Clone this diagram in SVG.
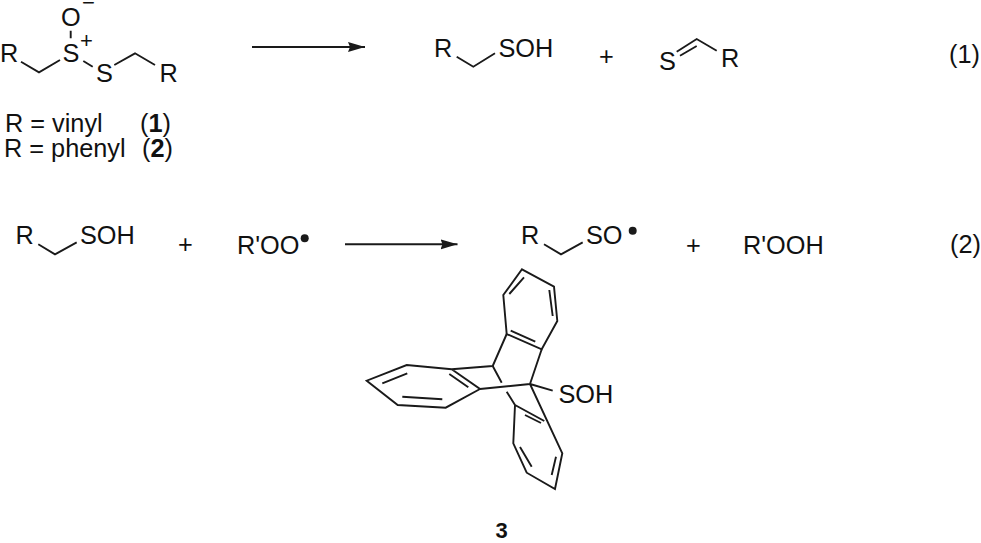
<svg xmlns="http://www.w3.org/2000/svg" width="981" height="543" viewBox="0 0 981 543">
<defs>
<marker id="head" markerUnits="userSpaceOnUse" markerWidth="18" markerHeight="12" refX="17" refY="6" orient="auto"><path d="M0 1L17 6L0 11L2 6Z" fill="#1a1a1a"/></marker>
</defs>
<style>
text{font-family:"Liberation Sans",Arial,sans-serif;font-size:25.3px;fill:#111}
.b{font-weight:bold}
.sm{font-size:22px}
.num{font-size:22px;font-weight:bold}
path.bond{fill:none;stroke:#1a1a1a;stroke-width:1.9;stroke-linejoin:miter}
.arrow{fill:none;stroke:#1a1a1a;stroke-width:1.9;marker-end:url(#head)}
</style>
<rect width="981" height="543" fill="#fff"/>
<g id="connectors">
<line class="arrow" x1="252" y1="47" x2="365" y2="47"/>
<line class="arrow" x1="345" y1="244.3" x2="457.5" y2="244.3"/>
</g>
<g id="reactant-disulfide-oxide">
<path class="bond" d="M21 61.7L39 72.3L60 60M70.7 30.7V38.3M83.3 61L92.7 66.7M114.3 65L135 53.3L155 65"/>
<text x="0" y="62">R</text><text x="62.5" y="62">S</text><text x="61" y="26">O</text><text x="96" y="81.5">S</text><text x="159.5" y="81.5">R</text>
<text x="80" y="48" class="sm">+</text><text x="82" y="10" class="sm">−</text>
</g>
<g id="legend">
<text x="5" y="132">R = vinyl</text><text x="140" y="132">(<tspan class="b">1</tspan>)</text>
<text x="4" y="157">R = phenyl</text><text x="142" y="157">(<tspan class="b">2</tspan>)</text>
</g>
<g id="product-sulfenic-acid-1">
<text x="434" y="56.7">R</text>
<path class="bond" d="M456.7 56.7L473.3 66.7L495 53.3"/>
<text x="498.5" y="56.7">SOH</text>
</g>
<g id="plus-1"><text x="599" y="65">+</text></g>
<g id="product-thione">
<text x="659" y="70">S</text>
<path class="bond" d="M676.7 51.7L696.7 39L716.7 50.7M680 55.7L696.7 46"/>
<text x="721" y="66.7">R</text>
</g>
<g id="eq-1"><text x="949" y="63">(1)</text></g>
<g id="reactant-sulfenic-acid">
<text x="15.5" y="244.3">R</text>
<path class="bond" d="M38.3 244.3L55 254.3L76.7 242.3"/>
<text x="80" y="244.3">SOH</text>
</g>
<g id="plus-2"><text x="178" y="253">+</text></g>
<g id="peroxyl">
<text x="237" y="254">R'OO</text><circle cx="304.7" cy="238.3" r="4" fill="#1a1a1a"/>
</g>
<g id="sulfinyl-radical">
<text x="521" y="244.3">R</text>
<path class="bond" d="M544 244.3L561 254.3L582.7 242.3"/>
<text x="586" y="244.3">SO</text><circle cx="632.7" cy="230.7" r="4" fill="#1a1a1a"/>
</g>
<g id="plus-3"><text x="686" y="253.5">+</text></g>
<g id="hydroperoxide"><text x="743" y="254.3">R'OOH</text></g>
<g id="eq-2"><text x="950" y="253">(2)</text></g>
<g id="compound-3">
<path class="bond" d="M522 269.3L554 286.7L557.3 321L541.7 349.3L506.7 334L503.3 295ZM524 277.3L509.3 294M549.3 290L552.7 316M535.3 341.7L510.7 330.7"/>
<path class="bond" d="M506.7 334L492.7 366M541.7 349.3L530 384M492.7 366L451.7 369.3L406.7 365L366.7 380.7L397.7 405L445.7 407.7L480 389L451.7 369.3M480 389L530 384M382.3 383.3L407.3 373.3M402.3 396.7L442.3 399.3M468.3 387.3L449.3 374"/>
<path class="bond" d="M492.7 366L501.7 382.7M506.7 391.7L515 405L513.3 443.3L526.7 472.7L555 489L562.3 453.3L530 384M515 405L544.3 421M525 415L541 423M520 447L531.7 466.7M551.7 475L556 456.7M530 384L552.7 390.7"/>
<text x="558.5" y="402.7">SOH</text>
<text x="495.5" y="538" class="num">3</text>
</g>
</svg>
